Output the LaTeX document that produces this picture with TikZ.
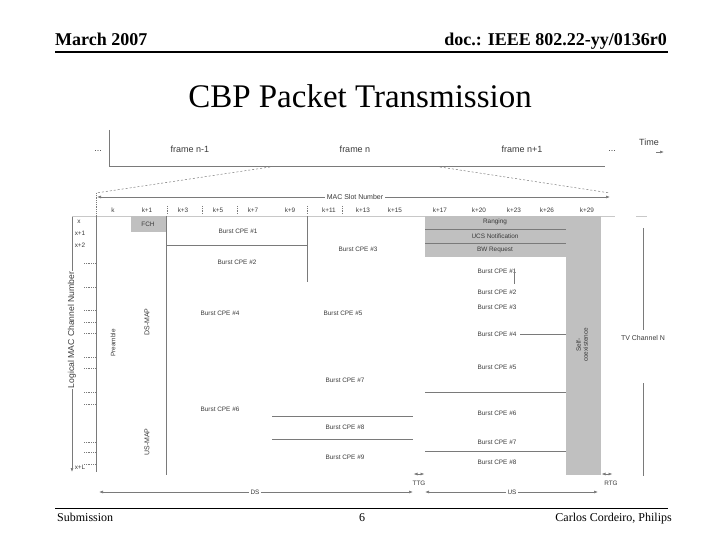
\documentclass[tikz,border=0pt]{standalone}
\usepackage{fontspec}
\setmainfont{Liberation Serif}
\setsansfont{Liberation Sans}
\usetikzlibrary{arrows.meta}
\definecolor{linegray}{HTML}{7A7A7A}
\definecolor{txtgray}{HTML}{3A3A3A}
\definecolor{boxgray}{HTML}{C0C0C0}
\definecolor{faint}{HTML}{C8C8C8}
\tikzset{
  ln/.style={draw=linegray, line width=0.6pt},
  fln/.style={draw=faint, line width=0.5pt},
  dln/.style={draw=linegray, line width=0.5pt, dash pattern=on 2pt off 2pt},
  dotrow/.style={draw=linegray, line width=0.5pt, dash pattern=on 0.6pt off 1.2pt},
  tip/.style={-{Latex[length=4pt,width=3pt]}},
  twotip/.style={{Latex[length=4pt,width=3pt]}-{Latex[length=4pt,width=3pt]}},
  small/.style={font=\sffamily\fontsize{6.4}{7}\selectfont, text=txtgray, inner sep=0.5pt},
  mid/.style={font=\sffamily\fontsize{7}{8}\selectfont, text=txtgray, inner sep=1pt},
  framelbl/.style={font=\sffamily\fontsize{9}{10}\selectfont, text=txtgray, inner sep=0},
  gbox/.style={fill=boxgray, draw=none},
  hdr/.style={font=\bfseries\fontsize{18}{20}\selectfont, inner sep=0},
  ftr/.style={font=\fontsize{12}{14}\selectfont, inner sep=0}
}
\begin{document}
\begin{tikzpicture}[x=1pt,y=-1pt]
\useasboundingbox (0,0) rectangle (720,540);
% header
\node[hdr, anchor=base west] (hl) at (55,46) {March 2007};
\node[hdr, anchor=base east] (hr) at (667,46) {doc.: IEEE 802.22-yy/0136r0};
\draw[line width=1.8pt] (55,52) -- (668,52);
\node[font=\fontsize{33}{36}\selectfont, inner sep=0, anchor=base] (title) at (360,108) {CBP Packet Transmission};
% footer
\draw[line width=0.8pt] (55,508) -- (668,508);
\node[ftr, anchor=base west] (f1) at (57,521) {Submission};
\node[ftr, anchor=base] (f2) at (362,521) {6};
\node[ftr, anchor=base east] (f3) at (672,521) {Carlos Cordeiro, Philips};

% frame timeline
\draw[ln] (109,130) -- (109,166) -- (605,166);
\node[framelbl] (d1) at (98,151) {...};
\node[framelbl] (fr1) at (190,149) {frame n-1};
\node[framelbl] (fr2) at (355,149) {frame n};
\node[framelbl] (fr3) at (522,149) {frame n+1};
\node[framelbl] (d2) at (612,151) {...};
\node[framelbl] (time) at (649,142) {Time};
\draw[ln, tip] (656,152) -- (664,152);
% projection
\draw[dln] (270,167) -- (96,193);
\draw[dln] (440,167) -- (610,193);
\draw[dotrow] (96,193) -- (96,216);

% MAC slot axis
\draw[ln, twotip] (97,197) -- (610,197);
\node[small, fill=white, inner xsep=2pt, font=\sffamily\fontsize{7}{8}\selectfont] (mac) at (355,197) {MAC Slot Number};
\foreach \xx/\tt in {113/k,147/k+1,183/k+3,218/k+5,253/k+7,290/k+9,329/k+11,363/k+13,395/k+15,440/k+17,479/k+20,514/k+23,547/k+26,587/k+29}
  \node[small] at (\xx,210) {\tt};
\foreach \xx in {167,202,237,307,342}
  \draw[dotrow] (\xx,206) -- (\xx,214);
\draw[fln] (72,216) -- (425,216);
\draw[fln] (601,216) -- (615,216);

% logical channel axis
\draw[ln, tip] (72,217) -- (72,472);
\node[mid, fill=white, rotate=90, font=\sffamily\fontsize{8.6}{9}\selectfont] (lmc) at (72,330) {Logical MAC Channel Number};
\node[small] (x0) at (79,222) {x};
\node[small] (x1) at (80,233) {x+1};
\node[small] (x2) at (80,245) {x+2};
\node[small] (xl) at (80,467) {x+L};
\foreach \yy in {263,287,310,322,333,357,368,392,404,442,452,464}
  \draw[dotrow] (84,\yy) -- (95,\yy);

% DS subframe structure
\draw[ln] (96,216) -- (96,472);
\draw[ln] (166,216) -- (166,475);
\node[small, rotate=90] (pre) at (113,343) {Preamble};
\node[mid, rotate=90] (dsmap) at (147,322) {DS-MAP};
\node[mid, rotate=90] (usmap) at (147,442) {US-MAP};
\fill[boxgray] (131,216) rectangle (166,232);
\node[small] (fch) at (148,224) {FCH};
\draw[ln] (166,245) -- (307,245);
\draw[ln] (307,216) -- (307,282);
\node[small] (b1) at (238,231) {Burst CPE \#1};
\node[small] (b2) at (237,262) {Burst CPE \#2};
\node[small] (b3) at (358,249) {Burst CPE \#3};
\node[small] (b4) at (220,313) {Burst CPE \#4};
\node[small] (b5) at (343,313) {Burst CPE \#5};
\node[small] (b6) at (220,409) {Burst CPE \#6};
\node[small] (b7) at (345,380) {Burst CPE \#7};
\draw[ln] (272,416) -- (413,416);
\node[small] (b8) at (345,427) {Burst CPE \#8};
\draw[ln] (272,439) -- (413,439);
\node[small] (b9) at (345,457) {Burst CPE \#9};

% US subframe
\fill[boxgray] (425,216) rectangle (601,257);
\fill[boxgray] (566,216) rectangle (601,475);
\draw[ln] (425,229) -- (566,229);
\draw[ln] (425,243) -- (566,243);
\node[small] (rng) at (495,222) {Ranging};
\node[small] (ucs) at (495,236) {UCS Notification};
\node[small] (bw) at (495,250) {BW Request};
\node[small, rotate=90, align=center, font=\sffamily\fontsize{6.4}{7}\selectfont] (sc) at (582,345) {Self-\\coexistence};
\node[small] (u1) at (497,271) {Burst CPE \#1};
\draw[ln] (514,270) -- (514,284);
\node[small] (u2) at (497,292) {Burst CPE \#2};
\node[small] (u3) at (497,307) {Burst CPE \#3};
\node[small] (u4) at (497,334) {Burst CPE \#4};
\draw[ln] (520,334) -- (566,334);
\node[small] (u5) at (497,367) {Burst CPE \#5};
\draw[ln] (425,392) -- (566,392);
\node[small] (u6) at (497,413) {Burst CPE \#6};
\node[small] (u7) at (497,442) {Burst CPE \#7};
\draw[ln] (425,451) -- (566,451);
\node[small] (u8) at (497,462) {Burst CPE \#8};

% TV channel bracket
\draw[fln] (636,216) -- (647,216);
\draw[ln] (643,228) -- (643,330);
\draw[ln] (643,383) -- (643,476);
\node[mid] (tv) at (643,338) {TV Channel N};

% gaps
\draw[ln, twotip] (413.5,474) -- (424.5,474);
\node[small] (ttg) at (419,483) {TTG};
\draw[ln, twotip] (601.5,474) -- (612.5,474);
\node[small] (rtg) at (611,483) {RTG};

% subframe durations
\draw[ln, twotip] (99,492) -- (413,492);
\node[small, fill=white, inner xsep=2pt] (ds) at (255,492) {DS};
\draw[ln, twotip] (425,492) -- (598,492);
\node[small, fill=white, inner xsep=2pt] (us) at (512,492) {US};
\end{tikzpicture}
\end{document}
